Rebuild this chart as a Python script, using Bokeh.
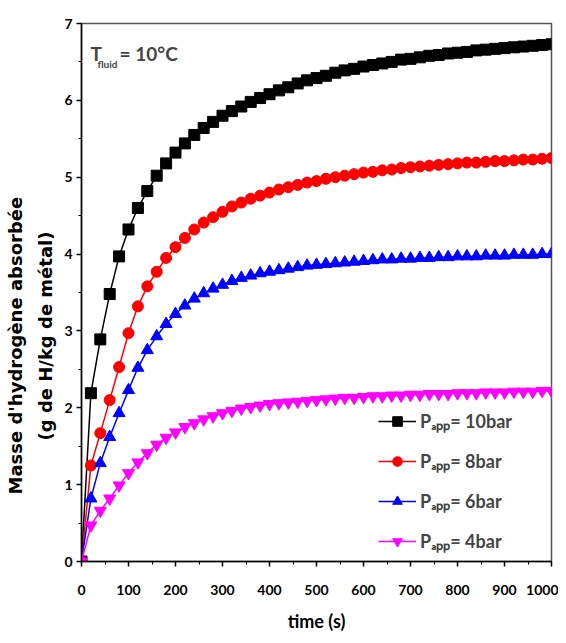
from bokeh.plotting import figure
from bokeh.models import SingleIntervalTicker, Legend, LegendItem, Label, Range1d, Title
from bokeh.embed import file_html
from bokeh.resources import INLINE

time_s = list(range(0, 1001, 20))

p10 = [0, 2.19, 2.89, 3.48, 3.97, 4.32, 4.60, 4.82, 5.02, 5.18, 5.32, 5.44, 5.55, 5.64, 5.72, 5.80, 5.86,
       5.92, 5.98, 6.03, 6.08, 6.13, 6.17, 6.22, 6.26, 6.29, 6.32, 6.36, 6.39, 6.41, 6.44, 6.46, 6.48,
       6.50, 6.53, 6.54, 6.56, 6.58, 6.59, 6.61, 6.62, 6.63, 6.65, 6.66, 6.67, 6.68, 6.69, 6.70, 6.71,
       6.72, 6.73]
p8 = [0, 1.25, 1.67, 2.10, 2.53, 2.97, 3.32, 3.58, 3.77, 3.95, 4.09, 4.21, 4.32, 4.41, 4.48, 4.55, 4.62,
      4.67, 4.72, 4.76, 4.80, 4.84, 4.87, 4.90, 4.93, 4.95, 4.98, 5.00, 5.02, 5.04, 5.06, 5.07, 5.09,
      5.10, 5.12, 5.13, 5.14, 5.15, 5.16, 5.17, 5.18, 5.19, 5.19, 5.20, 5.21, 5.21, 5.22, 5.23, 5.23,
      5.24, 5.25]
p6 = [0, 0.82, 1.28, 1.62, 1.93, 2.23, 2.52, 2.75, 2.93, 3.09, 3.22, 3.33, 3.42, 3.49, 3.55, 3.60, 3.65,
      3.69, 3.72, 3.75, 3.77, 3.79, 3.81, 3.83, 3.85, 3.86, 3.87, 3.88, 3.89, 3.90, 3.91, 3.92, 3.93,
      3.93, 3.94, 3.94, 3.95, 3.95, 3.96, 3.96, 3.97, 3.97, 3.97, 3.98, 3.98, 3.98, 3.99, 3.99, 3.99,
      4.00, 4.00]
p4 = [0, 0.47, 0.66, 0.82, 0.99, 1.15, 1.29, 1.41, 1.52, 1.61, 1.68, 1.75, 1.80, 1.85, 1.89, 1.93, 1.96,
      1.99, 2.01, 2.03, 2.05, 2.06, 2.07, 2.08, 2.09, 2.10, 2.11, 2.12, 2.13, 2.13, 2.14, 2.15, 2.15,
      2.16, 2.16, 2.17, 2.17, 2.18, 2.18, 2.18, 2.19, 2.19, 2.19, 2.20, 2.20, 2.20, 2.21, 2.21, 2.21,
      2.22, 2.22]

series_labels = ["P\u2090\u209a\u209a= 10bar", "P\u2090\u209a\u209a= 8bar", "P\u2090\u209a\u209a= 6bar", "P\u2090\u209a\u209a= 4bar"]
series_values = [p10, p8, p6, p4]
colors = ["#000000", "#FF0000", "#0000FF", "#FF00FF"]
markers = ["square", "circle", "triangle", "inverted_triangle"]
sizes = [11, 11, 12, 12]

y_title_lines = ["Masse d'hydrog\u00e8ne absorb\u00e9e", "(g de H/kg de m\u00e9tal)"]
x_title = "time (s)"

FONT = "Lato"

p = figure(frame_width=470, frame_height=538, min_border_left=81, min_border_top=23,
           min_border_right=7, min_border_bottom=80,
           x_range=Range1d(0, 1000), y_range=Range1d(0, 7),
           output_backend="svg", toolbar_location=None)
p.grid.visible = False
p.outline_line_color = "#555555"
p.outline_line_width = 1.5

items = []
for lab, vals, c, m, s in zip(series_labels, series_values, colors, markers, sizes):
    r1 = p.line(time_s, vals, line_color=c, line_width=1.5)
    r2 = p.scatter(time_s, vals, marker=m, size=s, fill_color=c, line_color=c)
    items.append(LegendItem(label=lab, renderers=[r1, r2]))

legend = Legend(items=items, location=(297, 8), background_fill_alpha=0, border_line_alpha=0,
                padding=0, margin=0, spacing=16, glyph_width=38, glyph_height=24, label_standoff=4,
                label_text_font=FONT, label_text_font_style="bold", label_text_font_size="18px",
                label_height=24)
p.add_layout(legend)

for ax, ivl in ((p.xaxis[0], 100), (p.yaxis[0], 1)):
    ax.ticker = SingleIntervalTicker(interval=ivl, num_minor_ticks=2)
    ax.major_tick_in = 0
    ax.major_tick_out = 5
    ax.minor_tick_in = 0
    ax.minor_tick_out = 3
    ax.axis_line_width = 1.5
    ax.major_tick_line_width = 1.5
    ax.major_label_text_font = FONT
    ax.major_label_text_font_style = "bold"
    ax.major_label_text_font_size = "14px"
    ax.major_label_text_color = "#000000"

p.xaxis.axis_label = x_title
p.xaxis.axis_label_text_font = FONT
p.xaxis.axis_label_text_font_style = "bold"
p.xaxis.axis_label_text_color = "#000000"
p.xaxis.axis_label_text_font_size = "18px"
p.xaxis.major_label_standoff = 18
p.xaxis.axis_label_standoff = 12

p.yaxis.major_label_standoff = 4

# inner line first (closest to axis), then outer line
p.add_layout(Title(text=y_title_lines[1], align="left", offset=121, standoff=12,
                   text_font="DejaVu Sans", text_font_style="bold",
                   text_font_size="18px", text_color="#000000"), "left")
p.add_layout(Title(text=y_title_lines[0], align="left", offset=67, standoff=2,
                   text_font="DejaVu Sans", text_font_style="bold",
                   text_font_size="18px", text_color="#000000"), "left")

p.add_layout(Label(x=19, y=6.61, text="T", text_baseline="middle", text_font=FONT,
                   text_font_style="bold", text_font_size="19px"))
p.add_layout(Label(x=34, y=6.47, text="fluid", text_baseline="middle", text_font=FONT,
                   text_font_style="bold", text_font_size="10px"))
p.add_layout(Label(x=81, y=6.61, text="= 10\u00b0C", text_baseline="middle", text_font=FONT,
                   text_font_style="bold", text_font_size="19px"))

open("out.html", "w").write(file_html(p, INLINE))
